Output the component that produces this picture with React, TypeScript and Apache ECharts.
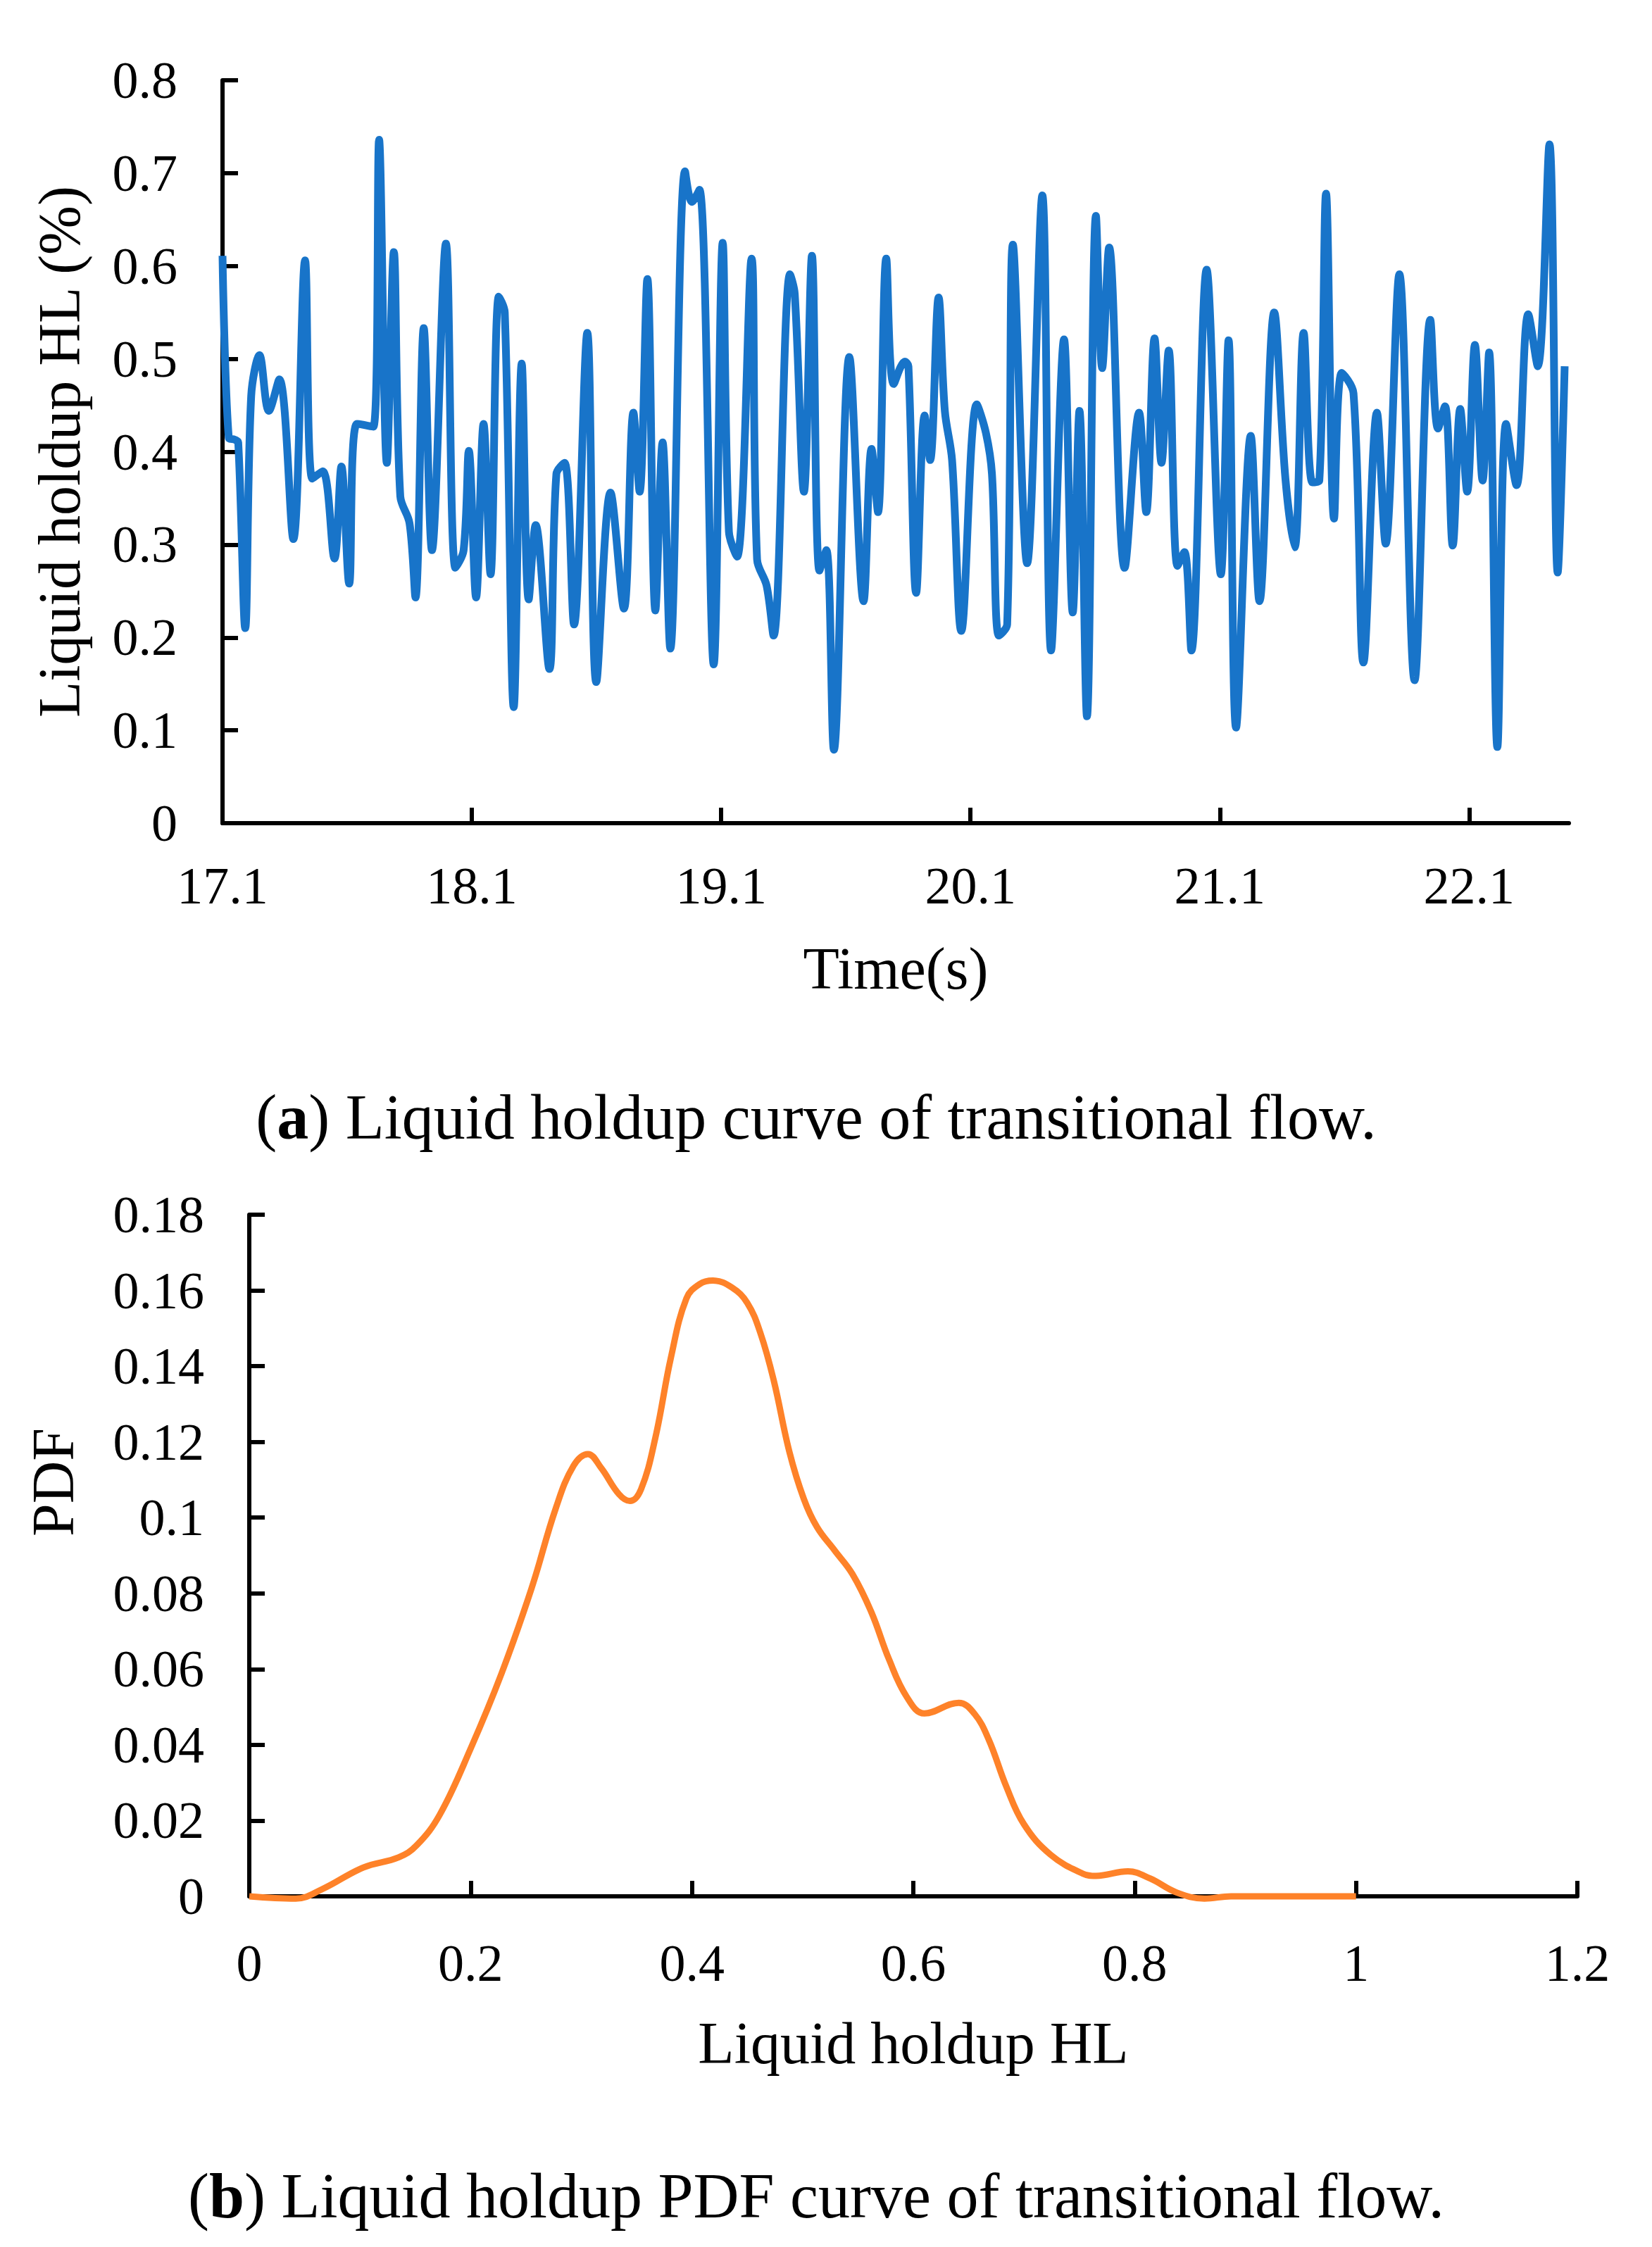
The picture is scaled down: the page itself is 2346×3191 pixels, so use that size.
import { useEffect, useRef } from "react";
import * as echarts from "echarts";

// (a) liquid holdup vs time (peaks, troughs and shoulders)
const TIME_S = [
  17.1, 17.125, 17.149, 17.163, 17.191, 17.215, 17.248, 17.286, 17.328, 17.384,
  17.431, 17.46, 17.502, 17.549, 17.577, 17.608, 17.639, 17.705, 17.728, 17.759,
  17.787, 17.813, 17.85, 17.874, 17.907, 17.94, 17.996, 18.034, 18.067, 18.088,
  18.117, 18.147, 18.175, 18.208, 18.232, 18.268, 18.3, 18.328, 18.356, 18.411,
  18.439, 18.472, 18.51, 18.563, 18.599, 18.656, 18.71, 18.748, 18.773, 18.804,
  18.836, 18.865, 18.896, 18.955, 18.983, 19.013, 19.07, 19.106, 19.131, 19.164,
  19.222, 19.244, 19.282, 19.31, 19.376, 19.395, 19.432, 19.464, 19.494, 19.522,
  19.552, 19.614, 19.671, 19.703, 19.729, 19.762, 19.792, 19.837, 19.851, 19.882,
  19.916, 19.938, 19.972, 19.997, 20.026, 20.063, 20.125, 20.162, 20.186, 20.214,
  20.247, 20.27, 20.327, 20.388, 20.423, 20.475, 20.51, 20.537, 20.567, 20.603,
  20.628, 20.656, 20.718, 20.776, 20.805, 20.838, 20.866, 20.895, 20.93, 20.958,
  20.986, 21.047, 21.104, 21.135, 21.165, 21.224, 21.259, 21.318, 21.363, 21.4,
  21.436, 21.471, 21.499, 21.526, 21.558, 21.589, 21.636, 21.676, 21.73, 21.765,
  21.82, 21.881, 21.944, 21.975, 22.003, 22.034, 22.064, 22.092, 22.123, 22.154,
  22.18, 22.213, 22.248, 22.29, 22.337, 22.375, 22.422, 22.455, 22.483,
];
const HOLDUP = [
  0.611, 0.415, 0.413, 0.41, 0.21, 0.46, 0.504, 0.444, 0.478, 0.306,
  0.606, 0.371, 0.379, 0.285, 0.384, 0.258, 0.43, 0.427, 0.736, 0.388,
  0.615, 0.352, 0.323, 0.243, 0.533, 0.294, 0.624, 0.275, 0.294, 0.401,
  0.243, 0.43, 0.268, 0.567, 0.55, 0.125, 0.495, 0.241, 0.321, 0.166,
  0.376, 0.388, 0.214, 0.528, 0.152, 0.356, 0.231, 0.442, 0.357, 0.586,
  0.229, 0.41, 0.188, 0.702, 0.669, 0.682, 0.171, 0.625, 0.314, 0.287,
  0.608, 0.284, 0.256, 0.202, 0.591, 0.57, 0.357, 0.611, 0.272, 0.294,
  0.079, 0.502, 0.239, 0.403, 0.335, 0.608, 0.473, 0.497, 0.492, 0.248,
  0.439, 0.391, 0.566, 0.444, 0.391, 0.207, 0.451, 0.42, 0.376, 0.202,
  0.214, 0.623, 0.28, 0.676, 0.186, 0.521, 0.227, 0.444, 0.115, 0.654,
  0.49, 0.62, 0.275, 0.442, 0.335, 0.522, 0.388, 0.509, 0.277, 0.292,
  0.186, 0.596, 0.268, 0.52, 0.103, 0.417, 0.239, 0.55, 0.371, 0.297,
  0.528, 0.367, 0.369, 0.678, 0.328, 0.485, 0.463, 0.173, 0.442, 0.301,
  0.591, 0.154, 0.542, 0.425, 0.449, 0.299, 0.446, 0.357, 0.515, 0.369,
  0.507, 0.082, 0.43, 0.364, 0.548, 0.492, 0.731, 0.27, 0.492,
];
const TIME_TICKS = [17.1, 18.1, 19.1, 20.1, 21.1, 22.1];

// (b) PDF of liquid holdup
const PDF_X = [
  0, 0.042, 0.066, 0.103, 0.135, 0.151, 0.172, 0.2, 0.228, 0.255,
  0.277, 0.293, 0.306, 0.318, 0.334, 0.344, 0.354, 0.367, 0.381, 0.395,
  0.407, 0.419, 0.436, 0.45, 0.462, 0.474, 0.488, 0.501, 0.513, 0.529,
  0.545, 0.562, 0.578, 0.594, 0.61, 0.641, 0.655, 0.668, 0.684, 0.7,
  0.724, 0.753, 0.765, 0.794, 0.814, 0.838, 0.863, 0.887, 1.0,
];
const PDF_Y = [
  0, -0.0006, 0.0019, 0.0076, 0.0103, 0.0134, 0.0215, 0.039, 0.0589, 0.0813,
  0.1025, 0.1137, 0.1168, 0.1131, 0.1062, 0.1044, 0.1075, 0.1212, 0.1423, 0.1579,
  0.1617, 0.1626, 0.1608, 0.1567, 0.1486, 0.1361, 0.1174, 0.105, 0.0975, 0.0913,
  0.0851, 0.0751, 0.0626, 0.0527, 0.0483, 0.0511, 0.0483, 0.0415, 0.029, 0.019,
  0.011, 0.006, 0.0054, 0.0066, 0.0047, 0.001, -0.0006, 0, 0,
];

const FONT = "Liberation Serif";
const BLACK = "#000";

const axisCommon = {
  axisLine: { show: true, onZero: false, lineStyle: { color: BLACK, width: 6 } },
  axisTick: { show: true, inside: true, length: 22, lineStyle: { color: BLACK, width: 6 } },
  splitLine: { show: false },
  axisLabel: { color: BLACK, fontFamily: FONT, fontSize: 74 },
  nameTextStyle: { color: BLACK, fontFamily: FONT, fontSize: 84 },
};

function caption(x: number, y: number, letter: string, rest: string) {
  return {
    type: "text",
    x,
    y,
    style: {
      text: `({b|${letter}}) ${rest}`,
      fontFamily: FONT,
      fontSize: 90,
      fill: BLACK,
      align: "center",
      verticalAlign: "middle",
      rich: { b: { fontFamily: FONT, fontSize: 90, fontWeight: "bold", fill: BLACK } },
    },
  };
}

export default function App() {
  const chartRef = useRef<HTMLDivElement>(null);

  useEffect(() => {
    document.body.style.margin = "0";
    if (!chartRef.current) return;
    const chart = echarts.init(chartRef.current, null, { renderer: "svg" });

    const option: echarts.EChartsOption = {
      animation: false,
      backgroundColor: "#fff",
      grid: [
        { left: 316, top: 114, width: 1912, height: 1055 },
        { left: 354, top: 1725, width: 1886, height: 968 },
      ],
      xAxis: [
        {
          ...axisCommon,
          gridIndex: 0,
          type: "value",
          min: 17.1,
          max: 22.5,
          axisTick: { ...axisCommon.axisTick, customValues: TIME_TICKS },
          axisLabel: { ...axisCommon.axisLabel, margin: 52, customValues: TIME_TICKS },
          name: "Time(s)",
          nameLocation: "middle",
          nameGap: 164,
        },
        {
          ...axisCommon,
          gridIndex: 1,
          type: "value",
          min: 0,
          max: 1.2,
          interval: 0.2,
          axisLabel: { ...axisCommon.axisLabel, margin: 58 },
          name: "Liquid holdup HL",
          nameLocation: "middle",
          nameGap: 166,
        },
      ],
      yAxis: [
        {
          ...axisCommon,
          gridIndex: 0,
          type: "value",
          min: 0,
          max: 0.8,
          interval: 0.1,
          axisLabel: { ...axisCommon.axisLabel, margin: 64 },
          name: "Liquid holdup HL (%)",
          nameLocation: "middle",
          nameGap: 190,
        },
        {
          ...axisCommon,
          gridIndex: 1,
          type: "value",
          min: 0,
          max: 0.18,
          interval: 0.02,
          axisLabel: { ...axisCommon.axisLabel, margin: 64 },
        },
      ],
      series: [
        {
          type: "line",
          xAxisIndex: 0,
          yAxisIndex: 0,
          data: TIME_S.map((t, i) => [t, HOLDUP[i]]),
          smooth: 0.35,
          showSymbol: false,
          lineStyle: { color: "#1874C9", width: 11 },
        },
        {
          type: "line",
          xAxisIndex: 1,
          yAxisIndex: 1,
          data: PDF_X.map((x, i) => [x, PDF_Y[i]]),
          smooth: 0.4,
          showSymbol: false,
          clip: false,
          lineStyle: { color: "#FE8229", width: 9 },
        },
      ],
      graphic: [
        {
          type: "text",
          x: 75,
          y: 2105,
          rotation: Math.PI / 2,
          style: {
            text: "PDF",
            fontFamily: FONT,
            fontSize: 84,
            fill: BLACK,
            align: "center",
            verticalAlign: "middle",
          },
        },
        caption(1159, 1586, "a", "Liquid holdup curve of transitional flow."),
        caption(1159, 3118, "b", "Liquid holdup PDF curve of transitional flow."),
      ],
    };

    chart.setOption(option);
    return () => chart.dispose();
  }, []);

  return <div ref={chartRef} style={{ width: 2346, height: 3191 }} />;
}
